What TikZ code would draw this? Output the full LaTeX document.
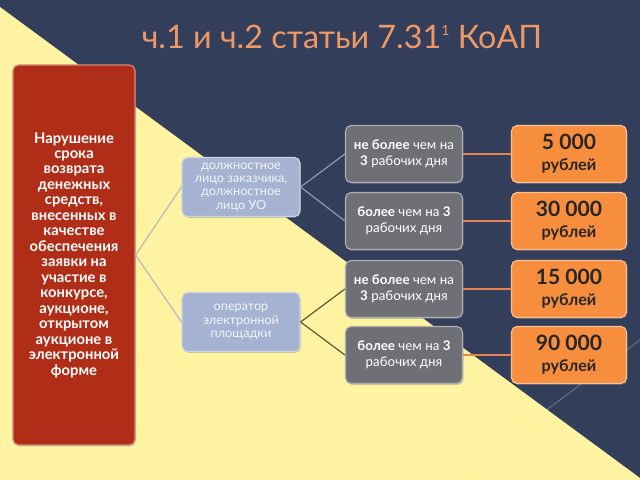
\documentclass[tikz,border=0pt]{standalone}
\usepackage{fontspec}
\setmainfont{Lato}
\usetikzlibrary{shadows}

\definecolor{navy}{RGB}{50,62,90}
\definecolor{paleyellow}{RGB}{253,243,160}
\definecolor{brickred}{RGB}{176,46,24}
\definecolor{steelblue}{RGB}{166,178,210}
\definecolor{slategrey}{RGB}{110,112,118}
\definecolor{fineorange}{RGB}{247,142,62}
\definecolor{titleorange}{RGB}{238,152,102}
\definecolor{rootlink}{RGB}{188,188,192}
\definecolor{upperlink}{RGB}{140,150,172}
\definecolor{lowerlink}{RGB}{108,92,58}
\definecolor{finelink}{RGB}{232,130,80}

\begin{document}
\begin{tikzpicture}[x=0.025cm, y=-0.025cm,
    every node/.style={inner sep=1pt, align=center},
    tile/.style={rounded corners=4pt, line width=0.8pt,
      drop shadow={opacity=0.4, shadow xshift=0.7pt, shadow yshift=-1pt}},
    causetile/.style={tile, fill=brickred, draw=brickred!55!white,
      minimum width=3.05cm, minimum height=9.5cm, text=white,
      font=\bfseries\fontsize{10.5}{11}\selectfont},
    partytile/.style={tile, fill=steelblue, draw=steelblue!55!white,
      minimum width=2.95cm, minimum height=1.475cm, text=white!85!steelblue,
      font=\fontsize{9}{9.5}\selectfont},
    termtile/.style={tile, fill=slategrey, draw=slategrey!55!white,
      minimum width=2.925cm, minimum height=1.425cm, text=white,
      font=\fontsize{9.5}{11.5}\selectfont},
    finetile/.style={tile, fill=fineorange, draw=fineorange!55!white,
      minimum width=2.875cm, minimum height=1.425cm, text=black!85},
    link/.style={line width=0.9pt},
  ]
  \useasboundingbox (0,0) rectangle (640,480);

  % Background
  \fill[navy] (0,0) rectangle (640,480);
  \fill[paleyellow] (0,7) -- (640,478) -- (640,480) -- (0,480) -- cycle;
  \draw[white, opacity=0.3, line width=0.6pt] (453,480) -- (640,340);

  % Title
  \node[text=titleorange, font=\fontsize{23}{25}\selectfont] (title) at (342,37)
    {ч.1 и ч.2 статьи 7.31\raisebox{0.4em}{\fontsize{10}{10}\selectfont 1} КоАП};

  % Offence and persons
  \node[causetile] (breach) at (74,255) {Нарушение\\срока\\возврата\\денежных\\средств,\\внесенных в\\качестве\\обеспечения\\заявки на\\участие в\\конкурсе,\\аукционе,\\открытом\\аукционе в\\электронной\\форме};
  \node[partytile] (official) at (241,187) {должностное\\лицо заказчика,\\должностное\\лицо УО};
  \node[partytile] (operator) at (241,322) {оператор\\электронной\\площадки};

  \draw[link, rootlink] (breach.east) -- (official.west);
  \draw[link, rootlink] (breach.east) -- (operator.west);

  % Terms & fines
  \foreach \term/\fine/\yy [count=\n] in {
      {\textbf{не более} чем на\\\textbf{3} рабочих дня}/{5 000}/154,
      {\textbf{более} чем на \textbf{3}\\рабочих дня}/{30 000}/221,
      {\textbf{не более} чем на\\\textbf{3} рабочих дня}/{15 000}/289,
      {\textbf{более} чем на \textbf{3}\\рабочих дня}/{90 000}/355} {
    \node[termtile] (term\n) at (404,\yy) {\term};
    \node[finetile] (fine\n) at (569,\yy)
      {{\fontsize{15}{15}\selectfont\bfseries\fine}\\[3pt]{\fontsize{11.5}{12}\selectfont\bfseries рублей}};
    \draw[link, finelink] (term\n.east) -- (fine\n.west);
  }

  \draw[link, upperlink] (official.east) -- (term1.west);
  \draw[link, upperlink] (official.east) -- (term2.west);
  \draw[link, lowerlink] (operator.east) -- (term3.west);
  \draw[link, lowerlink] (operator.east) -- (term4.west);
\end{tikzpicture}
\end{document}
